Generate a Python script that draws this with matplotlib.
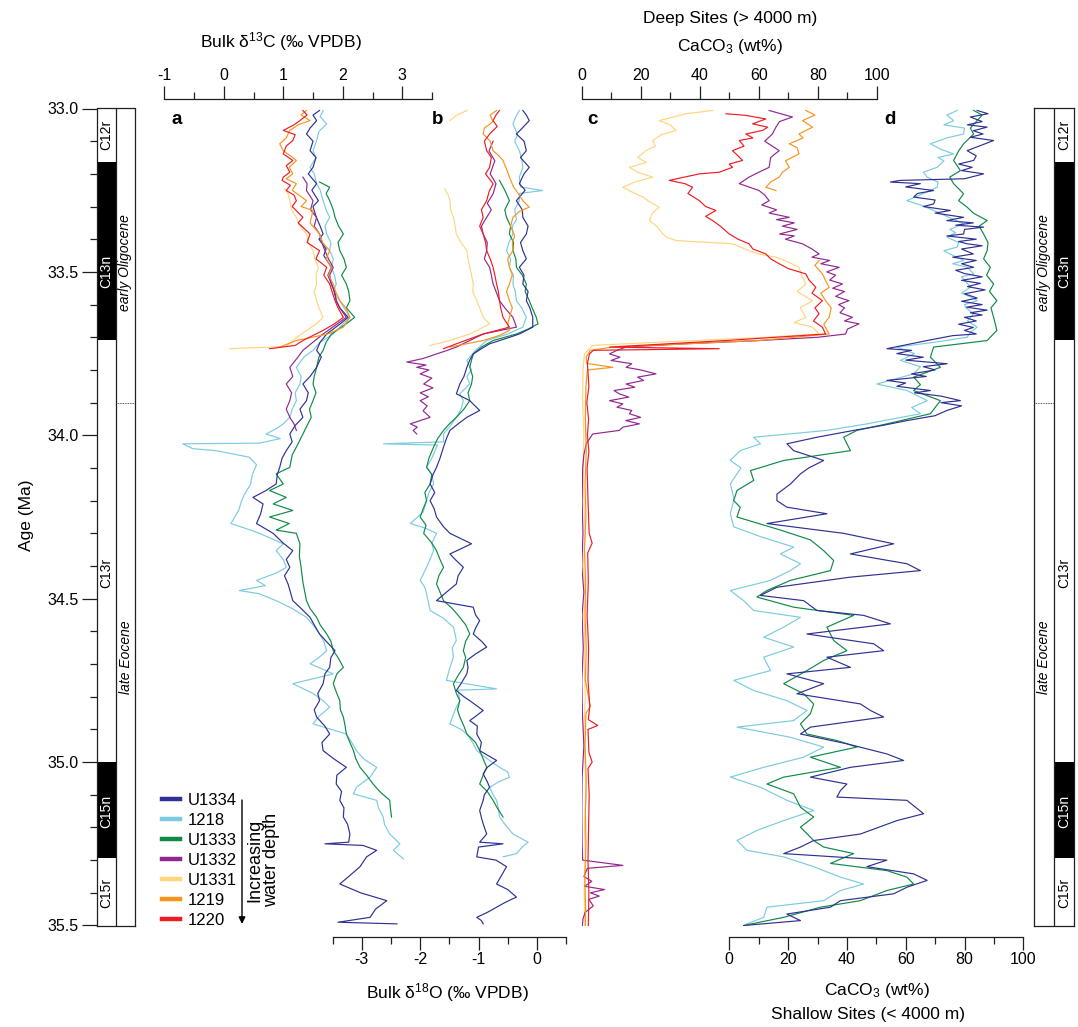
import numpy as np
import matplotlib.pyplot as plt
from matplotlib.lines import Line2D

plt.rcParams['font.family'] = ['Liberation Sans', 'DejaVu Sans']
plt.rcParams['mathtext.fontset'] = 'custom'
plt.rcParams['mathtext.rm'] = 'Liberation Sans'
plt.rcParams['mathtext.it'] = 'Liberation Sans:italic'
plt.rcParams['axes.unicode_minus'] = False

W, H = 1078, 1027

# site colours
col = {'U1334': '#2e3191', '1218': '#7ccbe0', 'U1333': '#0f8a46', 'U1332': '#92278f',
       'U1331': '#ffd57e', '1219': '#f7941d', '1220': '#ed1c24'}
sites = ['U1334', '1218', 'U1333', 'U1332', 'U1331', '1219', '1220']

# ---- panel a : bulk d13C (age Ma, permil) ----
a_u1334 = np.array([
    (33.006, 1.61), (33.02, 1.50), (33.037, 1.56), (33.06, 1.45), (33.078, 1.39), (33.10, 1.50),
    (33.129, 1.45), (33.15, 1.55), (33.18, 1.50), (33.20, 1.42), (33.23, 1.56), (33.25, 1.48),
    (33.282, 1.59), (33.30, 1.50), (33.33, 1.55), (33.36, 1.62), (33.384, 1.67), (33.40, 1.60),
    (33.43, 1.72), (33.45, 1.68), (33.486, 1.81), (33.51, 1.75),
    (33.537, 1.81), (33.56, 1.86), (33.588, 1.89), (33.61, 1.95), (33.639, 2.09), (33.66, 1.95),
    (33.69, 1.73), (33.715, 1.62), (33.74, 1.56), (33.76, 1.64), (33.792, 1.56), (33.82, 1.45),
    (33.843, 1.33), (33.87, 1.42), (33.894, 1.39), (33.92, 1.28), (33.945, 1.33), (33.97, 1.20),
    (33.996, 1.11), (34.02, 1.15), (34.047, 1.05), (34.07, 0.98), (34.098, 0.94), (34.12, 0.90),
    (34.149, 0.88), (34.17, 0.70), (34.19, 0.49), (34.21, 0.66), (34.24, 0.62), (34.27, 0.55),
    (34.30, 0.83), (34.33, 1.00), (34.353, 1.16), (34.38, 1.05), (34.404, 1.11), (34.43, 1.02),
    (34.455, 1.08), (34.48, 1.12), (34.506, 1.16), (34.53, 1.30), (34.557, 1.45), (34.58, 1.52),
    (34.608, 1.61), (34.63, 1.72), (34.659, 1.87), (34.68, 1.80), (34.71, 1.78), (34.73, 1.70),
    (34.76, 1.67), (34.79, 1.58), (34.812, 1.61), (34.84, 1.52), (34.862, 1.56), (34.89, 1.70),
    (34.914, 1.78), (34.94, 1.65), (34.965, 1.67), (34.99, 1.85), (35.016, 2.06), (35.04, 1.90),
    (35.067, 1.89), (35.09, 1.98), (35.117, 1.95), (35.14, 2.02), (35.168, 2.01), (35.19, 2.08),
    (35.22, 2.12), (35.245, 2.10), (35.25, 1.70), (35.255, 2.34), (35.27, 2.57), (35.29, 2.40),
    (35.32, 2.29), (35.35, 2.10), (35.373, 1.95), (35.40, 2.30), (35.424, 2.74), (35.45, 2.55),
    (35.475, 2.46), (35.49, 1.92), (35.495, 2.91)])
a_1218 = np.array([
    (33.006, 1.67), (33.025, 1.62), (33.047, 1.73), (33.07, 1.60), (33.098, 1.56), (33.129, 1.50),
    (33.15, 1.55), (33.18, 1.45), (33.20, 1.52), (33.23, 1.56), (33.25, 1.62), (33.282, 1.67),
    (33.31, 1.72), (33.333, 1.78), (33.36, 1.70), (33.384, 1.73), (33.41, 1.80), (33.435, 1.78),
    (33.46, 1.84), (33.486, 1.81), (33.51, 1.86), (33.537, 1.89), (33.56, 1.84), (33.588, 1.95),
    (33.61, 2.02), (33.639, 2.12), (33.66, 2.00), (33.69, 1.84), (33.715, 1.62), (33.74, 1.50),
    (33.76, 1.35), (33.792, 1.22), (33.82, 1.30), (33.843, 1.28), (33.87, 1.20), (33.894, 1.22),
    (33.92, 1.15), (33.945, 1.11), (33.965, 1.00), (33.98, 0.88), (33.996, 0.71), (34.01, 0.95),
    (34.024, 0.60), (34.026, -0.69), (34.041, -0.52), (34.047, -0.13), (34.067, 0.43), (34.09, 0.55),
    (34.12, 0.48), (34.15, 0.45), (34.18, 0.35), (34.20, 0.30), (34.23, 0.25), (34.27, 0.12),
    (34.29, 0.45), (34.30, 0.60), (34.332, 1.00), (34.353, 0.88), (34.38, 1.00), (34.404, 1.05),
    (34.42, 0.90), (34.444, 0.55), (34.46, 0.70), (34.475, 0.26), (34.485, 0.60), (34.506, 0.88),
    (34.53, 1.15), (34.557, 1.39), (34.58, 1.50), (34.608, 1.61), (34.63, 1.68), (34.659, 1.73),
    (34.68, 1.60), (34.699, 1.45), (34.73, 1.84), (34.76, 1.16), (34.79, 1.50), (34.812, 1.67),
    (34.832, 1.78), (34.86, 1.60), (34.883, 1.50), (34.914, 2.06), (34.94, 2.15), (34.965, 2.23),
    (34.99, 2.35), (35.016, 2.57), (35.046, 2.46), (35.077, 2.23), (35.097, 2.18), (35.117, 2.57),
    (35.14, 2.60), (35.168, 2.68), (35.19, 2.70), (35.22, 2.79), (35.25, 2.96), (35.27, 2.85),
    (35.296, 3.02)])
a_u1333 = np.array([
    (33.225, 1.61), (33.241, 1.78), (33.26, 1.72), (33.282, 1.78), (33.31, 1.84), (33.333, 1.87),
    (33.36, 1.93), (33.384, 2.01), (33.41, 1.92), (33.435, 1.95), (33.46, 2.02), (33.486, 2.06),
    (33.51, 1.98), (33.537, 2.06), (33.56, 2.10), (33.588, 2.12), (33.61, 2.06), (33.639, 2.20),
    (33.66, 2.05), (33.69, 1.81), (33.715, 1.72), (33.74, 1.67), (33.76, 1.60), (33.792, 1.56),
    (33.82, 1.52), (33.843, 1.50), (33.87, 1.55), (33.894, 1.50), (33.92, 1.44), (33.945, 1.47),
    (33.97, 1.40), (33.996, 1.33), (34.036, 1.22), (34.06, 1.15), (34.098, 1.11), (34.118, 0.88),
    (34.149, 1.00), (34.169, 0.77), (34.19, 1.05), (34.21, 0.83), (34.23, 1.16), (34.25, 0.77),
    (34.27, 1.10), (34.29, 0.88), (34.30, 1.22), (34.332, 1.28), (34.37, 1.27), (34.404, 1.30),
    (34.45, 1.33), (34.506, 1.39), (34.53, 1.45), (34.557, 1.56), (34.58, 1.62), (34.608, 1.73),
    (34.63, 1.80), (34.659, 1.84), (34.68, 1.92), (34.71, 2.01), (34.73, 1.90), (34.76, 1.84),
    (34.79, 1.90), (34.812, 1.95), (34.84, 1.96), (34.862, 2.01), (34.89, 2.04), (34.914, 2.06),
    (34.94, 2.12), (34.965, 2.18), (34.99, 2.22), (35.016, 2.29), (35.04, 2.40), (35.067, 2.51),
    (35.09, 2.62), (35.117, 2.79), (35.14, 2.80), (35.168, 2.82)])
a_u1332 = np.array([
    (33.21, 1.33), (33.23, 1.40), (33.251, 1.39), (33.282, 1.50), (33.31, 1.46), (33.333, 1.56),
    (33.36, 1.52), (33.384, 1.61), (33.41, 1.65), (33.435, 1.70), (33.46, 1.76), (33.486, 1.84),
    (33.51, 1.78), (33.537, 1.81), (33.56, 1.86), (33.588, 1.89), (33.61, 1.95), (33.639, 2.06),
    (33.66, 1.90), (33.69, 1.67), (33.715, 1.50), (33.74, 1.33), (33.76, 1.25), (33.792, 1.11),
    (33.82, 1.16), (33.843, 1.05), (33.87, 1.14), (33.894, 1.11), (33.92, 1.05), (33.945, 1.11),
    (33.965, 1.18), (33.985, 1.22)])
a_u1331 = np.array([
    (33.246, 1.02), (33.26, 1.08), (33.282, 1.11), (33.31, 1.14), (33.333, 1.22), (33.36, 1.28),
    (33.384, 1.39), (33.41, 1.42), (33.435, 1.50), (33.46, 1.53), (33.486, 1.59), (33.51, 1.55),
    (33.537, 1.56), (33.56, 1.52), (33.588, 1.56), (33.61, 1.60), (33.639, 1.67), (33.66, 1.55),
    (33.679, 1.39), (33.71, 1.16), (33.728, 1.05), (33.735, 0.10)])
a_1219 = np.array([
    (33.006, 1.39), (33.02, 1.30), (33.037, 1.45), (33.05, 1.25), (33.067, 1.11), (33.09, 1.05),
    (33.108, 0.94), (33.129, 1.00), (33.145, 1.12), (33.159, 1.22), (33.18, 1.10), (33.20, 1.16),
    (33.215, 1.05), (33.23, 1.22), (33.25, 1.15), (33.282, 1.39), (33.30, 1.30), (33.312, 1.50),
    (33.35, 1.45), (33.384, 1.61), (33.41, 1.66), (33.435, 1.78), (33.46, 1.72), (33.486, 1.81),
    (33.51, 1.76), (33.537, 1.84), (33.56, 1.88), (33.588, 1.95), (33.61, 2.05), (33.639, 2.12),
    (33.669, 2.01), (33.69, 1.75), (33.71, 1.22), (33.73, 0.94)])
a_1220 = np.array([
    (33.006, 1.33), (33.02, 1.40), (33.037, 1.28), (33.05, 1.18), (33.067, 1.00), (33.08, 1.20),
    (33.098, 1.16), (33.115, 1.05), (33.139, 1.00), (33.159, 1.16), (33.175, 1.05), (33.195, 1.11),
    (33.21, 1.00), (33.22, 0.98), (33.235, 1.12), (33.251, 1.05), (33.265, 1.18), (33.282, 1.22),
    (33.30, 1.15), (33.333, 1.33), (33.35, 1.25), (33.384, 1.45), (33.41, 1.40), (33.435, 1.61),
    (33.46, 1.55), (33.486, 1.73), (33.51, 1.68), (33.537, 1.78), (33.56, 1.82), (33.588, 1.87),
    (33.61, 1.92), (33.639, 2.01), (33.66, 1.85), (33.679, 1.67), (33.71, 1.33), (33.725, 1.20),
    (33.735, 0.77)])

# ---- panel b : bulk d18O ----
b_u1334 = np.array([
    (33.006, -0.24), (33.02, -0.18), (33.037, -0.13), (33.06, -0.25), (33.078, -0.35), (33.10, -0.22),
    (33.129, -0.18), (33.15, -0.28), (33.18, -0.13), (33.20, -0.22), (33.23, -0.30), (33.25, -0.20),
    (33.282, -0.35), (33.31, -0.25), (33.333, -0.24), (33.36, -0.15), (33.384, -0.18), (33.41, -0.28),
    (33.435, -0.24), (33.46, -0.18), (33.486, -0.30), (33.51, -0.22), (33.537, -0.24), (33.56, -0.15),
    (33.588, -0.18), (33.61, -0.12), (33.639, -0.07), (33.669, -0.07), (33.69, -0.30), (33.705, -0.55),
    (33.72, -0.81), (33.735, -0.95), (33.751, -1.09), (33.77, -1.15), (33.792, -1.20), (33.82, -1.25),
    (33.843, -1.32), (33.873, -1.38), (33.894, -1.15), (33.924, -0.98), (33.945, -1.20), (33.965, -1.35),
    (33.985, -1.49), (34.01, -1.55), (34.036, -1.60), (34.07, -1.66), (34.098, -1.72), (34.12, -1.78),
    (34.149, -1.83), (34.175, -1.75), (34.20, -1.83), (34.225, -1.76), (34.25, -1.72), (34.28, -1.60),
    (34.30, -1.49), (34.332, -1.12), (34.363, -1.49), (34.38, -1.40), (34.404, -1.26), (34.43, -1.35),
    (34.455, -1.38), (34.48, -1.55), (34.506, -1.72), (34.526, -1.09), (34.55, -1.05), (34.567, -0.98),
    (34.59, -1.05), (34.608, -1.09), (34.63, -0.95), (34.648, -0.86), (34.669, -1.05), (34.689, -1.20),
    (34.71, -1.18), (34.73, -1.20), (34.76, -1.30), (34.781, -1.38), (34.80, -1.25), (34.812, -1.15),
    (34.842, -0.92), (34.86, -1.05), (34.873, -1.15), (34.89, -1.02), (34.914, -1.03), (34.94, -0.95),
    (34.965, -0.98), (34.995, -0.69), (35.016, -0.85), (35.036, -0.92), (35.06, -0.85), (35.077, -0.81),
    (35.10, -0.90), (35.117, -0.92), (35.148, -0.98), (35.17, -0.95), (35.189, -0.92), (35.22, -0.86),
    (35.245, -0.98), (35.25, -0.58), (35.26, -1.00), (35.29, -1.03), (35.30, -0.70), (35.32, -0.52),
    (35.345, -0.60), (35.373, -0.69), (35.39, -0.50), (35.413, -0.35), (35.43, -0.55), (35.444, -0.69),
    (35.46, -0.85), (35.475, -1.03), (35.485, -0.95), (35.495, -0.92)])
b_1218 = np.array([
    (33.006, -0.30), (33.025, -0.36), (33.047, -0.41), (33.08, -0.33), (33.10, -0.38), (33.129, -0.30),
    (33.155, -0.26), (33.18, -0.24), (33.21, -0.30), (33.24, -0.28), (33.251, 0.10), (33.26, -0.30),
    (33.282, -0.30), (33.31, -0.38), (33.34, -0.35), (33.36, -0.42), (33.384, -0.41), (33.41, -0.48),
    (33.435, -0.52), (33.46, -0.45), (33.486, -0.47), (33.51, -0.40), (33.537, -0.41), (33.56, -0.37),
    (33.588, -0.35), (33.61, -0.26), (33.639, -0.18), (33.669, -0.24), (33.69, -0.50), (33.71, -0.86),
    (33.74, -1.05), (33.771, -1.20), (33.80, -1.12), (33.82, -1.20), (33.843, -1.15), (33.873, -1.32),
    (33.894, -1.26), (33.92, -1.30), (33.945, -1.38), (33.97, -1.48), (33.996, -1.60), (34.02, -1.60),
    (34.026, -2.63), (34.03, -1.70), (34.036, -1.72), (34.07, -1.80), (34.098, -1.89), (34.12, -1.80),
    (34.149, -1.77), (34.175, -1.85), (34.20, -1.89), (34.235, -1.95), (34.27, -2.17), (34.285, -1.90),
    (34.30, -1.72), (34.33, -1.80), (34.353, -1.77), (34.40, -1.88), (34.444, -2.00), (34.465, -1.92),
    (34.485, -1.89), (34.51, -1.86), (34.536, -1.83), (34.56, -1.60), (34.587, -1.43), (34.61, -1.40),
    (34.628, -1.38), (34.65, -1.45), (34.679, -1.43), (34.71, -1.49), (34.73, -1.52), (34.75, -1.55),
    (34.776, -0.69), (34.78, -1.35), (34.812, -1.32), (34.84, -1.40), (34.883, -1.49), (34.90, -1.30),
    (34.914, -1.20), (34.94, -1.10), (34.965, -1.03), (34.99, -0.85), (35.016, -0.64), (35.03, -0.50),
    (35.046, -0.47), (35.06, -0.65), (35.077, -0.81), (35.10, -0.75), (35.117, -0.69), (35.14, -0.66),
    (35.168, -0.64), (35.19, -0.55), (35.22, -0.41), (35.245, -0.15), (35.26, -0.25), (35.28, -0.35),
    (35.29, -0.58)])
b_u1333 = np.array([
    (33.22, -0.64), (33.25, -0.55), (33.282, -0.47), (33.31, -0.55), (33.333, -0.52), (33.36, -0.45),
    (33.384, -0.47), (33.41, -0.40), (33.435, -0.41), (33.46, -0.36), (33.486, -0.35), (33.51, -0.25),
    (33.537, -0.18), (33.56, -0.20), (33.588, -0.13), (33.61, -0.08), (33.639, -0.01), (33.659, 0.02),
    (33.675, -0.15), (33.69, -0.35), (33.71, -0.75), (33.73, -0.95), (33.751, -1.09), (33.77, -1.12),
    (33.792, -1.15), (33.82, -1.10), (33.843, -1.12), (33.87, -1.18), (33.894, -1.15), (33.92, -1.25),
    (33.945, -1.38), (33.965, -1.50), (33.985, -1.60), (34.01, -1.70), (34.036, -1.77), (34.07, -1.85),
    (34.098, -1.89), (34.12, -1.80), (34.149, -1.83), (34.175, -1.92), (34.20, -1.89), (34.225, -1.95),
    (34.25, -2.00), (34.275, -1.90), (34.30, -1.94), (34.33, -1.80), (34.353, -1.72), (34.38, -1.66),
    (34.404, -1.60), (34.43, -1.68), (34.455, -1.72), (34.48, -1.66), (34.506, -1.60), (34.53, -1.45),
    (34.557, -1.32), (34.58, -1.22), (34.608, -1.15), (34.63, -1.22), (34.659, -1.26), (34.68, -1.22),
    (34.71, -1.26), (34.735, -1.35), (34.76, -1.43), (34.79, -1.38), (34.812, -1.32), (34.84, -1.36),
    (34.862, -1.32), (34.89, -1.25), (34.914, -1.20), (34.94, -1.05), (34.965, -0.98), (34.99, -0.92),
    (35.016, -0.86), (35.04, -0.92), (35.067, -0.98), (35.09, -0.85), (35.117, -0.75), (35.14, -0.68),
    (35.168, -0.58)])
b_u1332 = np.array([
    (33.10, -0.75), (33.13, -0.82), (33.16, -0.72), (33.20, -0.80), (33.23, -0.70), (33.261, -0.75),
    (33.29, -0.85), (33.31, -0.78), (33.333, -0.86), (33.36, -0.95), (33.384, -0.92), (33.41, -0.85),
    (33.435, -0.86), (33.46, -0.90), (33.486, -0.81), (33.51, -0.78), (33.537, -0.75), (33.56, -0.70),
    (33.588, -0.64), (33.61, -0.55), (33.639, -0.41), (33.669, -0.35), (33.69, -0.92), (33.71, -1.15),
    (33.73, -1.38), (33.741, -1.55), (33.751, -1.72), (33.765, -1.95), (33.776, -2.23), (33.785, -1.90),
    (33.792, -2.06), (33.80, -1.85), (33.812, -2.00), (33.825, -1.80), (33.843, -1.94), (33.855, -1.78),
    (33.87, -2.00), (33.882, -1.86), (33.894, -2.00), (33.91, -1.88), (33.925, -1.95), (33.945, -1.83),
    (33.955, -2.00), (33.965, -2.17), (33.975, -2.05), (33.985, -2.12), (33.996, -2.06)])
b_u1331 = np.array([
    (33.006, -1.20), (33.021, -1.38), (33.037, -1.49), (np.nan, np.nan),
    (33.246, -1.58), (33.265, -1.52), (33.282, -1.49), (33.31, -1.48), (33.333, -1.43), (33.36, -1.40),
    (33.384, -1.38), (33.41, -1.30), (33.435, -1.20), (33.46, -1.18), (33.486, -1.15), (33.51, -1.12),
    (33.537, -1.09), (33.56, -1.10), (33.588, -1.03), (33.61, -0.98), (33.639, -0.92), (33.659, -0.81),
    (33.675, -0.98), (33.69, -1.15), (33.71, -1.49), (33.725, -1.83)])
b_1219 = np.array([
    (33.006, -0.69), (33.02, -0.80), (33.04, -0.75), (33.06, -0.90), (33.078, -0.92), (33.10, -0.80),
    (33.129, -0.75), (33.145, -0.65), (33.159, -0.58), (33.185, -0.52), (33.21, -0.47), (33.24, -0.40),
    (33.26, -0.32), (33.282, -0.24), (33.302, -0.13), (33.315, -0.30), (33.333, -0.41), (33.36, -0.45),
    (33.39, -0.38), (33.41, -0.42), (33.435, -0.41), (33.46, -0.50), (33.486, -0.47), (33.51, -0.42),
    (33.537, -0.47), (33.56, -0.52), (33.588, -0.47), (33.61, -0.42), (33.639, -0.47), (33.66, -0.50),
    (33.679, -0.47), (33.695, -0.65), (33.71, -0.92), (33.73, -1.49)])
b_1220 = np.array([
    (33.006, -0.64), (33.02, -0.70), (33.037, -0.75), (33.055, -0.68), (33.078, -0.81), (33.10, -0.90),
    (33.129, -0.86), (33.15, -0.78), (33.18, -0.81), (33.20, -0.88), (33.23, -0.75), (33.255, -0.82),
    (33.282, -0.86), (33.31, -0.95), (33.333, -0.92), (33.36, -0.98), (33.384, -0.92), (33.41, -0.88),
    (33.435, -0.86), (33.46, -0.80), (33.486, -0.75), (33.51, -0.72), (33.537, -0.69), (33.56, -0.66),
    (33.588, -0.64), (33.61, -0.62), (33.639, -0.58), (33.669, -0.47), (33.69, -0.92), (33.72, -1.38),
    (33.735, -1.60)])

# ---- panel c : CaCO3 deep sites (wt%) ----
c_u1332 = np.array([
    (33.006, 63.5), (33.026, 71.4), (33.04, 67.0), (33.057, 65.8), (33.078, 64.6), (33.10, 62.0),
    (33.129, 66.9), (33.15, 64.0), (33.18, 63.5), (33.195, 60.0), (33.21, 56.7), (33.23, 53.4),
    (33.251, 60.1), (33.265, 62.0), (33.282, 63.5), (33.295, 61.0), (33.31, 66.0), (33.32, 63.5),
    (33.333, 70.3), (33.34, 66.0), (33.35, 72.0), (33.36, 68.0), (33.37, 73.0), (33.384, 67.0),
    (33.39, 72.0), (33.40, 69.0), (33.414, 74.8), (33.43, 78.0), (33.445, 80.4), (33.455, 78.0),
    (33.465, 84.0), (33.475, 81.0), (33.486, 87.2), (33.50, 83.0), (33.51, 86.0), (33.525, 84.0),
    (33.537, 88.3), (33.55, 85.0), (33.56, 89.0), (33.575, 86.0), (33.588, 90.5), (33.60, 87.0),
    (33.61, 89.0), (33.625, 87.5), (33.639, 91.7), (33.65, 89.0), (33.659, 93.9), (33.675, 90.0),
    (33.69, 89.4), (33.70, 80.0),
    (33.71, 60.1), (33.72, 35.0), (33.73, 15.1), (33.74, 12.0), (33.751, 9.5), (33.761, 13.0),
    (33.771, 10.0), (33.781, 17.0), (33.792, 15.1), (33.80, 20.0), (33.812, 25.2), (33.822, 19.0),
    (33.832, 21.0), (33.843, 15.1), (33.853, 18.0), (33.863, 11.0), (33.873, 12.8), (33.883, 16.0),
    (33.894, 9.5), (33.904, 14.0), (33.914, 12.0), (33.924, 17.0), (33.934, 16.2), (33.945, 20.0),
    (33.955, 15.0), (33.965, 19.6), (33.975, 14.0), (33.985, 12.8), (33.996, 3.8), (34.026, 1.6),
    (34.06, 0.8), (34.10, 0.4), (34.20, 0.2), (34.30, 0.5), (34.40, 0.1), (34.48, 0.8), (34.55, 0.2),
    (34.65, 0.6), (34.75, 0.1), (34.85, 0.3), (34.95, 0.8), (35.05, 0.2), (35.15, 0.1), (35.25, 0.2),
    (35.30, 0.4), (35.316, 14.0), (35.325, 2.0), (35.35, 0.8), (35.365, 3.5), (35.38, 1.0),
    (35.39, 7.8), (35.40, 3.0), (35.41, 6.0), (35.42, 2.5), (35.44, 4.0), (35.46, 1.2), (35.48, 0.5),
    (35.50, 0.3)])
c_u1331 = np.array([
    (33.006, 44.4), (33.016, 35.4), (33.037, 26.3), (33.05, 30.0), (33.067, 32.0), (33.08, 27.0),
    (33.098, 24.1), (33.115, 25.0), (33.129, 21.8), (33.15, 19.0), (33.165, 22.0), (33.18, 16.2),
    (33.195, 19.0), (33.21, 24.1), (33.225, 18.0), (33.241, 14.0), (33.255, 17.0), (33.271, 20.7),
    (33.285, 23.0), (33.302, 26.3), (33.32, 24.0), (33.343, 23.0), (33.36, 25.5), (33.384, 27.5),
    (33.395, 29.0), (33.404, 32.0), (33.414, 51.1), (33.435, 56.7), (33.445, 60.0), (33.455, 65.8),
    (33.47, 70.0), (33.486, 73.6), (33.51, 74.5), (33.537, 75.9), (33.56, 73.0), (33.588, 78.2),
    (33.61, 74.0), (33.639, 75.9), (33.655, 72.0), (33.669, 78.2), (33.69, 80.4), (33.70, 62.4),
    (33.715, 26.3), (33.725, 3.8), (33.751, 1.0), (33.80, 0.5), (33.90, 0.4), (34.00, 0.8), (34.10, 0.5),
    (34.20, 0.8), (34.30, 1.2), (34.40, 0.6), (34.50, 1.4), (34.55, 0.7), (34.60, 1.1), (34.70, 0.9),
    (34.80, 1.3), (34.90, 0.8), (35.00, 1.2), (35.10, 1.6), (35.20, 1.0), (35.30, 1.4), (35.40, 0.9),
    (35.50, 1.2)])
c_1219 = np.array([
    (33.006, 75.9), (33.02, 79.0), (33.037, 74.8), (33.057, 78.2), (33.078, 73.6), (33.09, 75.0),
    (33.108, 70.3), (33.12, 73.0), (33.139, 73.6), (33.16, 69.0), (33.18, 70.3), (33.195, 68.0),
    (33.21, 66.9), (33.225, 64.0), (33.241, 62.4), (33.251, 65.8), (np.nan, np.nan),
    (33.465, 80.4), (33.48, 79.0), (33.506, 81.5), (33.525, 82.5), (33.547, 83.8), (33.565, 81.0),
    (33.588, 82.6), (33.61, 84.5), (33.639, 83.8), (33.66, 82.0), (33.69, 83.8), (33.71, 60.1),
    (33.73, 10.6), (33.74, 3.0), (33.76, 1.6), (33.78, 1.8), (33.792, 10.6), (33.80, 2.0), (33.85, 1.5),
    (33.95, 1.3), (34.05, 1.6), (34.15, 1.2), (34.25, 1.5), (34.35, 1.0), (34.45, 1.4), (34.55, 1.2),
    (34.65, 1.6), (34.75, 1.3), (34.83, 3.0), (34.85, 1.5), (34.95, 1.2), (35.05, 1.6), (35.15, 1.3),
    (35.25, 1.5), (35.35, 1.1), (35.45, 1.4), (35.50, 1.3)])
c_1220 = np.array([
    (33.016, 48.9), (33.021, 55.6), (33.032, 62.4), (33.047, 57.9), (33.057, 63.0), (33.067, 61.3),
    (33.078, 55.6), (33.09, 58.0), (33.098, 53.4), (33.115, 55.0), (33.129, 51.1), (33.145, 53.0),
    (33.159, 54.5), (33.17, 50.0), (33.18, 51.1), (33.195, 46.6), (33.20, 39.9), (33.22, 29.7),
    (33.23, 35.0), (33.241, 37.6), (33.26, 36.0), (33.282, 39.9), (33.30, 42.0), (33.312, 45.5),
    (33.33, 42.0), (33.343, 44.4), (33.36, 47.0), (33.384, 50.0), (33.40, 53.0), (33.414, 56.7),
    (33.43, 58.0), (33.445, 62.4), (33.46, 64.0), (33.475, 66.9), (33.49, 70.0), (33.506, 75.9),
    (33.525, 77.0), (33.547, 79.3), (33.565, 78.0), (33.588, 81.5), (33.61, 79.0), (33.628, 80.4),
    (33.65, 78.5), (33.669, 81.5), (33.69, 82.6), (33.71, 48.9), (33.73, 9.5), (33.735, 46.6),
    (33.74, 4.0), (33.751, 2.7), (33.78, 2.0), (33.85, 2.5), (33.90, 1.8), (33.95, 2.4), (34.00, 2.0),
    (34.05, 2.5), (34.10, 1.9), (34.20, 2.2), (34.30, 2.6), (34.33, 3.6), (34.36, 2.1), (34.45, 2.3),
    (34.55, 1.9), (34.65, 2.4), (34.75, 2.2), (34.83, 2.8), (34.87, 2.3), (34.888, 5.5), (34.90, 2.2),
    (34.97, 2.5), (35.00, 3.6), (35.02, 2.2), (35.10, 2.6), (35.20, 2.4), (35.30, 2.2), (35.40, 2.5),
    (35.50, 2.3)])

# ---- panel d : CaCO3 shallow sites (wt%) ----
d_u1334 = np.array([
    (33.006, 84.3), (33.016, 88.0), (33.026, 82.0), (33.04, 86.0), (33.05, 81.0), (33.057, 87.7),
    (33.068, 83.0), (33.078, 86.3), (33.088, 82.0), (33.098, 89.9), (33.115, 85.0), (33.129, 80.9),
    (33.145, 84.0), (33.159, 83.1), (33.17, 78.0), (33.18, 82.6), (33.19, 79.0), (33.2, 86.5),
    (33.215, 80.0), (33.22, 58.2), (33.225, 54.8), (33.23, 65.0), (33.24, 60.0), (33.251, 69.5),
    (33.26, 64.0), (33.271, 62.7), (33.28, 70.0), (33.292, 69.5), (33.30, 66.0), (33.312, 75.2),
    (33.32, 70.0), (33.333, 79.7), (33.343, 74.0), (33.35, 83.0), (33.357, 77.0), (33.363, 86.5),
    (33.37, 80.0), (33.384, 79.7), (33.39, 74.0), (33.40, 84.0), (33.407, 78.0), (33.414, 80.9),
    (33.42, 86.0), (33.43, 79.0), (33.445, 83.0), (33.455, 76.0), (33.465, 84.0), (33.475, 79.0),
    (33.486, 83.1), (33.495, 77.0), (33.505, 80.0), (33.515, 86.0), (33.526, 79.0), (33.535, 85.4),
    (33.545, 81.0), (33.555, 87.0), (33.567, 80.0), (33.58, 84.3), (33.59, 79.0), (33.60, 86.0),
    (33.608, 80.7), (33.617, 87.7), (33.625, 82.0), (33.632, 86.0), (33.639, 80.0), (33.65, 84.0),
    (33.66, 78.0), (33.67, 83.0), (33.679, 80.0), (33.69, 84.0), (33.695, 76.0), (33.71, 67.3),
    (33.735, 53.6), (33.74, 62.0), (33.75, 57.0), (33.761, 66.0), (33.77, 60.0), (33.781, 74.1),
    (33.79, 66.0), (33.80, 70.0), (33.812, 62.0), (33.82, 67.0), (33.832, 53.6), (33.84, 60.0),
    (33.85, 57.0), (33.863, 68.4), (33.87, 63.0), (33.88, 72.0), (33.894, 78.6), (33.90, 72.0),
    (33.91, 79.0), (33.924, 74.0), (33.94, 70.0),
    (33.955, 60.4), (33.97, 52.0), (33.985, 42.3), (34.006, 29.8), (34.026, 19.6), (34.047, 21.9),
    (34.077, 32.1), (34.10, 27.0), (34.118, 24.2), (34.149, 20.8), (34.18, 16.2), (34.2, 16.2),
    (34.22, 19.6), (34.24, 33.2), (34.27, 12.8), (34.30, 38.9), (34.332, 55.9), (34.363, 41.2),
    (34.393, 60.4), (34.414, 65.0), (34.434, 41.2), (34.465, 16.2), (34.49, 10.6), (34.506, 25.3),
    (34.536, 29.8), (34.551, 45.7), (34.577, 54.8), (34.608, 26.4), (34.638, 49.1), (34.659, 52.5),
    (34.679, 33.2), (34.71, 41.2), (34.73, 19.6), (34.76, 32.1), (34.791, 23.0), (34.822, 44.6),
    (34.842, 48.0), (34.862, 52.5), (34.893, 27.6), (34.914, 24.2), (34.944, 40.0), (34.975, 53.6),
    (34.995, 59.3), (35.016, 41.2), (35.046, 27.6), (35.067, 40.0), (35.087, 37.8), (35.107, 36.6),
    (35.117, 60.4), (35.158, 66.1), (35.179, 57.0), (35.22, 44.6), (35.24, 28.7), (35.26, 24.2),
    (35.28, 18.5), (35.30, 53.6), (35.32, 46.8), (35.342, 62.7), (35.362, 67.3), (35.383, 60.4),
    (35.403, 55.9), (35.424, 37.8), (35.444, 34.4), (35.465, 19.6), (35.485, 24.2), (35.50, 4.9)])
d_1218 = np.array([
    (33.006, 77.5), (33.02, 74.0), (33.037, 76.3), (33.05, 73.0), (33.06, 80.0), (33.078, 79.7),
    (33.09, 74.0), (33.108, 68.4), (33.125, 72.0), (33.139, 76.3), (33.15, 71.0), (33.16, 73.0),
    (33.18, 70.7), (33.195, 66.0), (33.21, 67.3), (33.225, 71.0), (33.241, 70.7), (33.26, 66.0),
    (33.282, 60.4), (33.295, 65.0), (33.312, 69.5), (33.33, 74.0), (33.353, 79.7), (33.37, 75.0),
    (33.38, 77.0), (33.394, 74.1), (33.41, 78.0), (33.424, 77.5), (33.435, 73.0), (33.445, 75.0),
    (33.465, 79.7), (33.475, 76.0), (33.486, 81.0), (33.506, 83.1), (33.515, 79.0), (33.525, 80.0),
    (33.547, 82.0), (33.565, 79.0), (33.58, 83.0), (33.588, 84.3), (33.60, 80.0), (33.61, 80.5),
    (33.628, 83.1), (33.65, 81.0), (33.669, 84.3), (33.685, 82.0),
    (33.70, 80.9), (33.715, 70.0), (33.73, 57.0), (33.75, 63.0), (33.771, 58.2), (33.79, 65.0),
    (33.812, 62.7), (33.843, 50.2), (33.863, 60.4), (33.894, 67.3), (33.915, 62.0), (33.934, 65.0),
    (33.965, 46.8), (33.985, 33.2), (34.006, 8.3), (34.026, 10.6), (34.047, 3.7), (34.077, 0.35),
    (34.10, 4.0), (34.118, 2.6), (34.149, 0.35), (34.19, 1.5), (34.2, 1.5), (34.24, 0.35), (34.28, 1.5),
    (34.31, 10.6), (34.342, 21.9), (34.363, 17.4), (34.393, 24.2), (34.414, 20.8), (34.444, 14.0),
    (34.475, 0.35), (34.506, 4.9), (34.536, 8.3), (34.557, 24.2), (34.587, 18.5), (34.618, 11.7),
    (34.648, 21.9), (34.679, 11.7), (34.72, 14.0), (34.75, 1.5), (34.781, 8.3), (34.812, 19.6),
    (34.842, 26.4), (34.873, 21.9), (34.893, 2.6), (34.924, 20.8), (34.954, 32.1), (34.985, 25.3),
    (35.016, 11.7), (35.046, 0.35), (35.077, 10.6), (35.117, 19.6), (35.148, 28.7), (35.179, 18.5),
    (35.209, 9.4), (35.24, 2.6), (35.27, 6.0), (35.29, 18.5), (35.32, 28.7), (35.352, 37.8),
    (35.373, 45.7), (35.393, 37.8), (35.424, 32.1), (35.444, 12.8), (35.475, 11.7), (35.495, 6.0)])
d_u1333 = np.array([
    (33.006, 83.1), (33.02, 86.0), (33.037, 84.3), (33.06, 82.0), (33.078, 83.1), (33.108, 79.7),
    (33.13, 78.0), (33.159, 76.3), (33.19, 78.6), (33.21, 75.0), (33.23, 76.3), (33.261, 79.7),
    (33.282, 78.0), (33.302, 80.9), (33.32, 83.0), (33.343, 87.7), (33.36, 85.0), (33.384, 86.5),
    (33.41, 88.0), (33.435, 87.7), (33.46, 86.5), (33.486, 88.8), (33.51, 87.5), (33.537, 89.9),
    (33.56, 88.5), (33.588, 91.0), (33.61, 89.0), (33.639, 89.9), (33.66, 90.5), (33.679, 91.0),
    (33.71, 87.7), (33.73, 69.5), (33.761, 68.4), (33.792, 71.8), (33.822, 62.7), (33.845, 65.0),
    (33.863, 62.7), (33.894, 71.8), (33.934, 68.4), (33.965, 53.6), (33.985, 43.4), (34.006, 38.9),
    (34.047, 41.2), (34.077, 18.5), (34.108, 7.2), (34.138, 8.3), (34.169, 2.6), (34.20, 1.5),
    (34.22, 3.7), (34.25, 2.6), (34.29, 17.4), (34.32, 27.6), (34.353, 32.1), (34.383, 35.5),
    (34.414, 34.4), (34.444, 20.8), (34.475, 12.8), (34.495, 9.4), (34.526, 21.9), (34.551, 42.3),
    (34.587, 33.2), (34.628, 35.5), (34.659, 40.0), (34.689, 32.1), (34.72, 26.4), (34.76, 18.5),
    (34.791, 25.3), (34.822, 28.7), (34.852, 27.6), (34.883, 24.2), (34.914, 26.4), (34.934, 36.6),
    (34.954, 43.4), (34.985, 27.6), (35.016, 37.8), (35.046, 18.5), (35.067, 12.8), (35.097, 21.9),
    (35.138, 24.2), (35.168, 28.7), (35.199, 24.2), (35.24, 28.7), (35.26, 32.1), (35.28, 42.3),
    (35.31, 34.4), (35.332, 53.6), (35.352, 60.4), (35.373, 62.7), (35.393, 53.6), (35.424, 44.6),
    (35.444, 31.0), (35.475, 18.5), (35.50, 4.9)])

# magnetic polarity (black = normal) and epochs
chrons = ['C12r', 'C13n', 'C13r', 'C15n', 'C15r']
chron_top = [33.0, 33.165, 33.708, 35.0, 35.294]
chron_base = [33.165, 33.708, 35.0, 35.294, 35.5]
chron_normal = [False, True, False, True, False]
chron_label_age = [33.08, 33.5, 34.42, 35.15, 35.40]
eo_boundary = 33.9

fig = plt.figure(figsize=(W / 100, H / 100), dpi=100)
y_top, y_bot = 108.5, 925.5
ax_b = (H - y_bot) / H
ax_h = (y_bot - y_top) / H
ink = '#231f20'


def panel(x0, x1, xlim, side, major, minor, offset):
    ax = fig.add_axes([x0 / W, ax_b, (x1 - x0) / W, ax_h])
    ax.set_xlim(*xlim)
    ax.set_ylim(35.5, 33.0)
    ax.patch.set_alpha(0)
    for s in ax.spines.values():
        s.set_visible(False)
    ax.spines[side].set_visible(True)
    ax.spines[side].set_position(('outward', offset))
    ax.spines[side].set_color(ink)
    ax.spines[side].set_linewidth(0.9)
    ax.xaxis.set_ticks_position(side)
    ax.set_xticks(major)
    ax.set_xticks(minor, minor=True)
    ax.set_yticks([])
    ax.tick_params(axis='x', which='major', length=9.5, width=0.9, color=ink, labelsize=11.5, pad=1.5)
    ax.tick_params(axis='x', which='minor', length=5, width=0.9, color=ink)
    return ax


axA = panel(164.3, 432, (-1, 3.5), 'top', [-1, 0, 1, 2, 3], np.arange(-0.5, 3.6, 1.0), 7.0)
axB = panel(332.7, 566, (-3.5, 0.5), 'bottom', [-3, -2, -1, 0], np.arange(-3.5, 0.6, 1.0), 8.2)
axC = panel(581.5, 877, (0, 100), 'top', np.arange(0, 101, 20), np.arange(10, 100, 20), 7.0)
axD = panel(729.3, 1023.3, (0, 100), 'bottom', np.arange(0, 101, 20), np.arange(10, 100, 20), 8.2)

lw = 0.85
for ax, series in [
        (axA, [('1218', a_1218), ('U1333', a_u1333), ('U1334', a_u1334), ('U1332', a_u1332),
               ('U1331', a_u1331), ('1219', a_1219), ('1220', a_1220)]),
        (axB, [('1218', b_1218), ('U1333', b_u1333), ('U1334', b_u1334), ('U1332', b_u1332),
               ('U1331', b_u1331), ('1219', b_1219), ('1220', b_1220)]),
        (axC, [('U1331', c_u1331), ('U1332', c_u1332), ('1219', c_1219), ('1220', c_1220)]),
        (axD, [('1218', d_1218), ('U1333', d_u1333), ('U1334', d_u1334)])]:
    for name, d in series:
        ax.plot(d[:, 1], d[:, 0], color=col[name], lw=lw)

# panel letters
for letter, xf in [('a', 172), ('b', 432), ('c', 587), ('d', 884)]:
    fig.text(xf / W, 1 - 120 / H, letter, fontsize=13.5, fontweight='bold', ha='left', va='center')

# axis titles
fig.text(281 / W, 1 - 42 / H, 'Bulk δ$^{13}$C (‰ VPDB)', fontsize=12.5, ha='center', va='center')
fig.text(730 / W, 1 - 19 / H, 'Deep Sites (> 4000 m)', fontsize=12.5, ha='center', va='center')
fig.text(730 / W, 1 - 46 / H, 'CaCO$_3$ (wt%)', fontsize=12.5, ha='center', va='center')
fig.text(447 / W, 1 - 993 / H, 'Bulk δ$^{18}$O (‰ VPDB)', fontsize=12.5, ha='center', va='center')
fig.text(877 / W, 1 - 990 / H, 'CaCO$_3$ (wt%)', fontsize=12.5, ha='center', va='center')
fig.text(868 / W, 1 - 1015 / H, 'Shallow Sites (< 4000 m)', fontsize=12.5, ha='center', va='center')
fig.text(27 / W, 1 - 515 / H, 'Age (Ma)', fontsize=12.5, rotation=90, ha='center', va='center')


def strat_column(x0, x1, pol_left, ticks):
    ax = fig.add_axes([x0 / W, ax_b, (x1 - x0) / W, ax_h])
    ax.set_xlim(0, 2)
    ax.set_ylim(35.5, 33.0)
    for s in ax.spines.values():
        s.set_color(ink)
        s.set_linewidth(0.9)
    px0, px1 = (0, 1) if pol_left else (1, 2)
    ex0, ex1 = (1, 2) if pol_left else (0, 1)
    for name, t, b, n, la in zip(chrons, chron_top, chron_base, chron_normal, chron_label_age):
        if n:
            ax.fill_betweenx([t, b], px0, px1, color='black', lw=0)
        ax.text((px0 + px1) / 2, la, name, rotation=90, ha='center', va='center',
                fontsize=10, color='white' if n else 'black')
    ax.axvline(1, color=ink, lw=0.9)
    ax.plot([ex0, ex1], [eo_boundary, eo_boundary], color=ink, lw=0.6, ls=(0, (1, 1)))
    ax.text((ex0 + ex1) / 2, 33.47, 'early Oligocene', rotation=90, ha='center', va='center',
            fontsize=10, style='italic')
    ax.text((ex0 + ex1) / 2, 34.68, 'late Eocene', rotation=90, ha='center', va='center',
            fontsize=10, style='italic')
    ax.set_xticks([])
    if ticks:
        ax.set_yticks(np.arange(33.0, 35.51, 0.5))
        ax.set_yticks(np.arange(33.0, 35.51, 0.1), minor=True)
        ax.set_yticklabels(['%.1f' % v for v in np.arange(33.0, 35.51, 0.5)])
        ax.tick_params(axis='y', which='major', length=10.5, width=0.9, color=ink, labelsize=11.5, pad=3)
        ax.tick_params(axis='y', which='minor', length=5, width=0.9, color=ink)
    else:
        ax.set_yticks([])
    return ax


strat_column(97, 135, True, True)
strat_column(1034, 1074, False, False)

# legend and water depth arrow
handles = [Line2D([], [], color=col[s], lw=3.2) for s in sites]
axA.legend(handles, sites, loc='upper left', bbox_to_anchor=(162 / W, 1 - 793 / H),
           bbox_transform=fig.transFigure, frameon=False, fontsize=12, handlelength=1.05,
           handletextpad=0.5, labelspacing=0.3, borderpad=0, borderaxespad=0)
axA.annotate('', xy=(242 / W, 1 - 924 / H), xytext=(242 / W, 1 - 800 / H),
             xycoords='figure fraction', textcoords='figure fraction', annotation_clip=False,
             arrowprops=dict(arrowstyle='-|>', color='black', lw=1.0, mutation_scale=10,
                             shrinkA=0, shrinkB=0))
fig.text(263 / W, 1 - 860 / H, 'Increasing\nwater depth', rotation=90, ha='center', va='center',
         fontsize=13, linespacing=1.0)

fig.savefig('out.png', dpi=100)
